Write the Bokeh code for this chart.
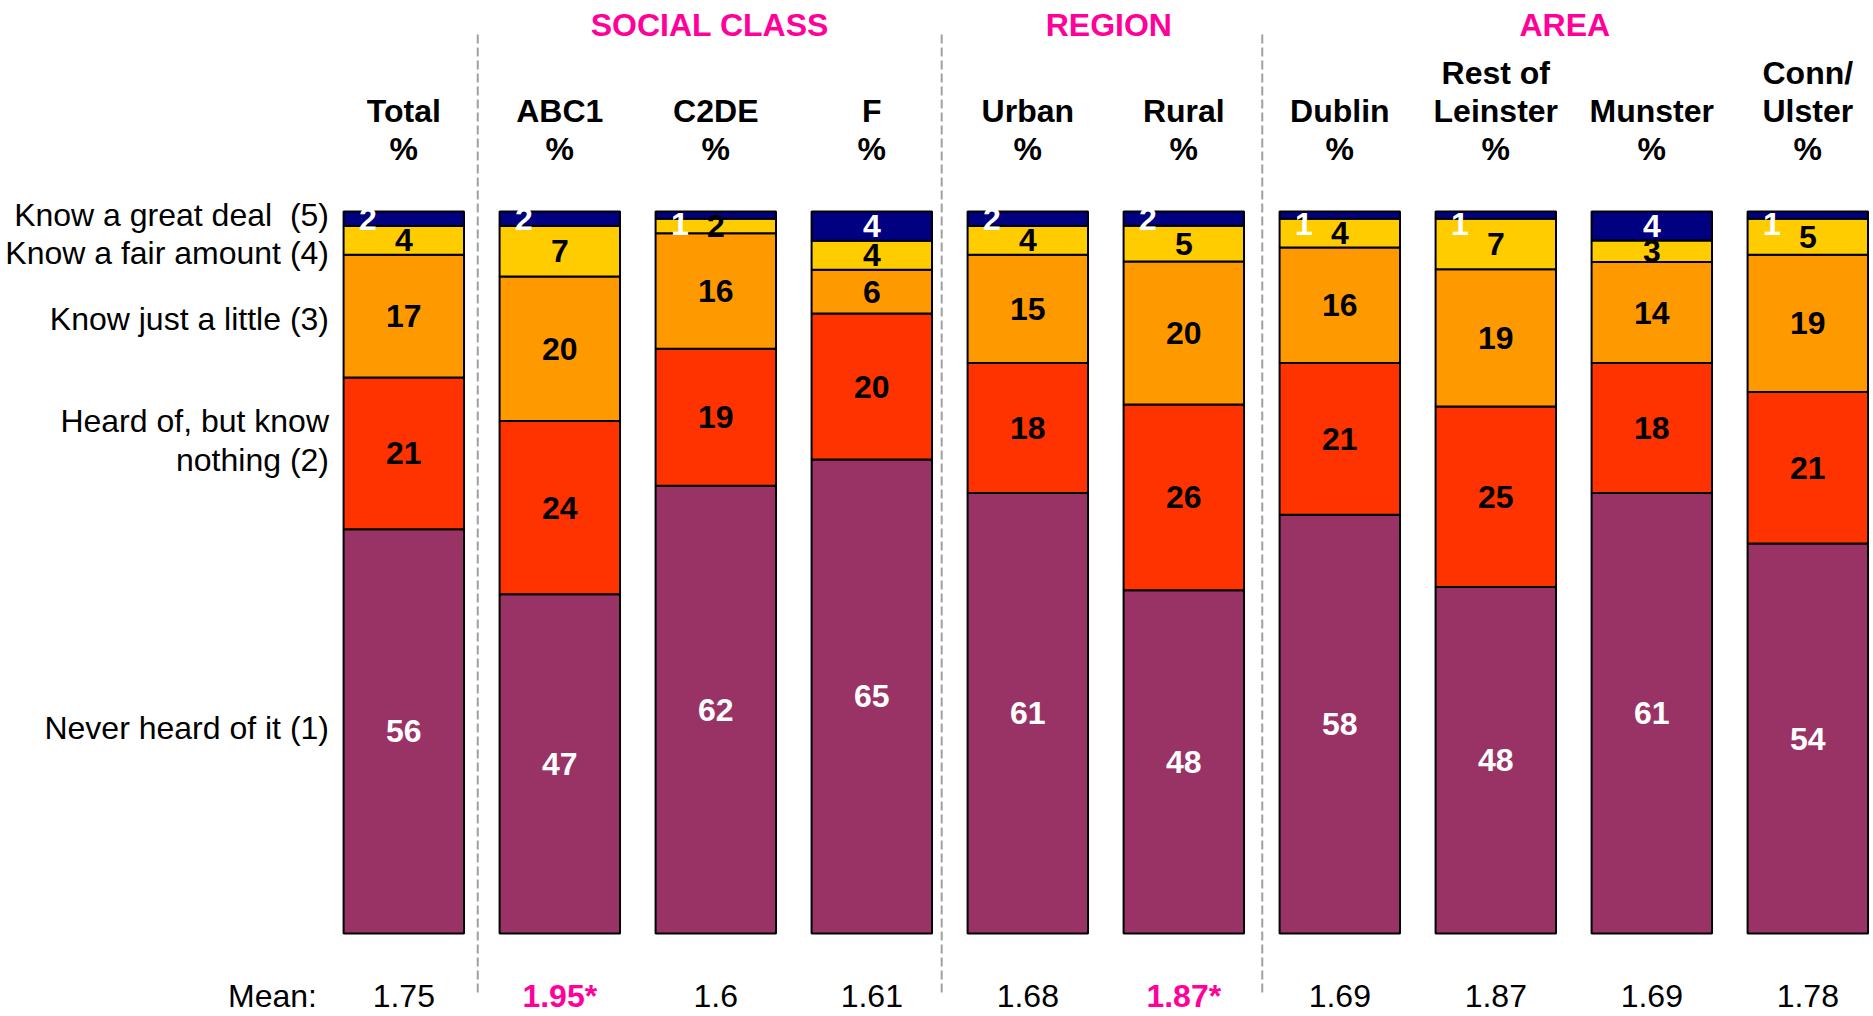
from bokeh.plotting import figure
from bokeh.models import ColumnDataSource, Range1d
from bokeh.core.properties import value
from bokeh.embed import file_html
from bokeh.resources import INLINE

# ---------------- data ----------------
categories = ["Total", "ABC1", "C2DE", "F", "Urban", "Rural", "Dublin",
              "Rest of\nLeinster", "Munster", "Conn/\nUlster"]
never_heard = [56, 47, 62, 65, 61, 48, 58, 48, 61, 54]      # (1)
heard_nothing = [21, 24, 19, 20, 18, 26, 21, 25, 18, 21]    # (2)
know_little = [17, 20, 16, 6, 15, 20, 16, 19, 14, 19]       # (3)
fair_amount = [4, 7, 2, 4, 4, 5, 4, 7, 3, 5]                # (4)
great_deal = [2, 2, 1, 4, 2, 2, 1, 1, 4, 1]                 # (5)
means = ["1.75", "1.95*", "1.6", "1.61", "1.68", "1.87*", "1.69", "1.87", "1.69", "1.78"]
mean_significant = [False, True, False, False, False, True, False, False, False, False]
groups = ["SOCIAL CLASS", "REGION", "AREA"]
group_first = [1, 4, 6]
group_last = [3, 5, 9]
row_labels = ["Know a great deal\u00a0\u00a0(5)", "Know a fair amount (4)", "Know just a little (3)",
              "Heard of, but know\nnothing (2)", "Never heard of it (1)"]

series = [never_heard, heard_nothing, know_little, fair_amount, great_deal]
colors = ["#993366", "#FF3300", "#FF9900", "#FFCC00", "#000080"]
label_colors = ["white", "black", "black", "black", "white"]

# ---------------- layout helpers ----------------
W, H = 1873, 1016
X0, DX = 403.3, 156.0          # pixel centre of first bar, spacing
Y100, Y0 = 211.0, 933.0        # pixel y of 100 % and 0 %
PPU = (Y0 - Y100) / 100.0


def xd(px):
    return (px - X0) / DX


def yd(py):
    return (Y0 - py) / PPU


FONT = value("Liberation Sans")
FS = "32px"

p = figure(width=W, height=H, output_backend="svg", toolbar_location=None,
           x_range=Range1d(xd(0), xd(W)), y_range=Range1d(yd(H), yd(0)),
           x_axis_type=None, y_axis_type=None, min_border=0,
           outline_line_color=None, background_fill_color="white",
           border_fill_color="white")
p.xgrid.visible = False
p.ygrid.visible = False

n = len(categories)
xs = list(range(n))
totals = [sum(s[i] for s in series) for i in range(n)]

# stacked bars
bottoms = [0.0] * n
lab_x, lab_y, lab_t, lab_c = [], [], [], []
for k, (s, col) in enumerate(zip(series, colors)):
    tops = [bottoms[i] + s[i] * 100.0 / totals[i] for i in range(n)]
    src = ColumnDataSource(dict(x=xs, bottom=list(bottoms), top=tops))
    p.vbar(x="x", bottom="bottom", top="top", width=0.772, source=src,
           fill_color=col, line_color="black", line_width=2)
    for i in range(n):
        cx = xs[i]
        cy = (bottoms[i] + tops[i]) / 2.0
        if k == len(series) - 1 and s[i] <= 2:
            cx -= 0.23
            if s[i] <= 1:
                cy -= 9.0 / PPU
        lab_x.append(cx)
        lab_y.append(cy)
        lab_t.append(str(s[i]))
        lab_c.append(label_colors[k])
    bottoms = tops

p.text(x=lab_x, y=lab_y, text=lab_t, text_color=lab_c, text_font=FONT,
       text_font_size=FS, text_font_style="bold", text_align="center",
       text_baseline="middle")

# column headers (bottom line "%")
hx, hy, ht = [], [], []
for i, c in enumerate(categories):
    lines = c.split("\n") + ["%"]
    for j, line in enumerate(reversed(lines)):
        hx.append(xs[i])
        hy.append(yd(148 - 38 * j))
        ht.append(line)
p.text(x=hx, y=hy, text=ht, text_color="black", text_font=FONT,
       text_font_size=FS, text_font_style="bold", text_align="center",
       text_baseline="middle")

# group headers
group_nudge_px = [-6, 3, -9]
gx = [(a + b) / 2.0 + d / DX for a, b, d in zip(group_first, group_last, group_nudge_px)]
p.text(x=gx, y=[yd(24)] * len(groups), text=groups, text_color="#FF0099",
       text_font=FONT, text_font_size=FS, text_font_style="bold",
       text_align="center", text_baseline="middle")

# separators
sep_x = [0.474, 3.448, 5.503]
p.segment(x0=sep_x, x1=sep_x, y0=[yd(34)] * 3, y1=[yd(995)] * 3,
          line_color="#A0A0A0", line_width=2, line_dash="9 4")

# row labels
row_py = [[214], [252], [318], [420, 459], [727]]
rx, ry, rt = [], [], []
for lab, pys in zip(row_labels, row_py):
    for line, py in zip(lab.split("\n"), pys):
        rx.append(xd(328.5))
        ry.append(yd(py))
        rt.append(line)
p.text(x=rx, y=ry, text=rt, text_color="black", text_font=FONT,
       text_font_size=FS, text_align="right", text_baseline="middle")

# mean row
base = yd(995)
p.text(x=[xd(316.5)], y=[base], text=["Mean:"], text_color="black",
       text_font=FONT, text_font_size=FS, text_align="right",
       text_baseline="middle")
norm_i = [i for i in range(n) if not mean_significant[i]]
sig_i = [i for i in range(n) if mean_significant[i]]
p.text(x=[xs[i] for i in norm_i], y=[base] * len(norm_i),
       text=[means[i] for i in norm_i], text_color="black", text_font=FONT,
       text_font_size=FS, text_align="center", text_baseline="middle")
p.text(x=[xs[i] for i in sig_i], y=[base] * len(sig_i),
       text=[means[i] for i in sig_i], text_color="#FF0099", text_font=FONT,
       text_font_size=FS, text_font_style="bold", text_align="center",
       text_baseline="middle")

open("out.html", "w").write(file_html(p, INLINE))
